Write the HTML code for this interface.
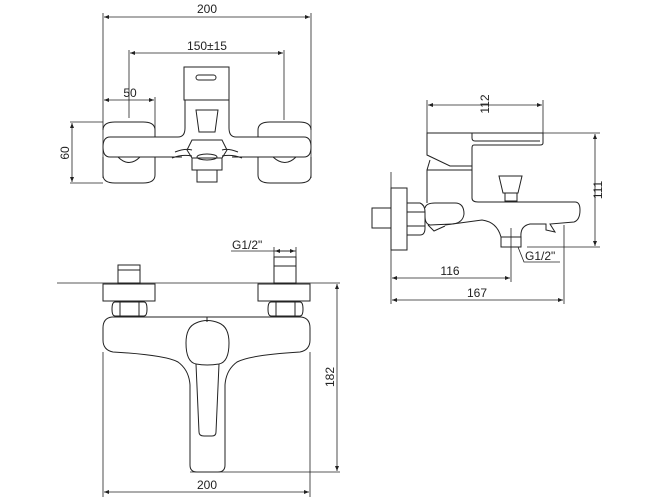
<!DOCTYPE html>
<html><head><style>
html,body{margin:0;padding:0;background:#fff;}
svg{display:block;}
text{font-family:"Liberation Sans",sans-serif;font-size:12px;fill:#222;}
</style></head><body>
<svg width="670" height="504" viewBox="0 0 670 504" xmlns="http://www.w3.org/2000/svg">
<defs>
<marker id="a" viewBox="0 0 10 10" refX="10" refY="5" markerWidth="8" markerHeight="5" orient="auto-start-reverse" markerUnits="userSpaceOnUse"><path d="M0,1 L10,5 L0,9z" fill="#222"/></marker>
</defs>
<g fill="none" stroke="#222" stroke-width="1">
<!-- TOP VIEW -->
<line x1="103" y1="13" x2="103" y2="178" stroke-width="0.8"/>
<line x1="311" y1="13" x2="311" y2="178" stroke-width="0.8"/>
<line x1="104" y1="17" x2="310" y2="17" marker-start="url(#a)" marker-end="url(#a)" stroke-width="0.8"/>
<line x1="129" y1="50" x2="129" y2="118" stroke-width="0.8"/>
<line x1="284" y1="50" x2="284" y2="120" stroke-width="0.8"/>
<line x1="130" y1="53" x2="283" y2="53" marker-start="url(#a)" marker-end="url(#a)" stroke-width="0.8"/>
<line x1="155" y1="97" x2="155" y2="137" stroke-width="0.8"/>
<line x1="104" y1="100" x2="154" y2="100" marker-start="url(#a)" marker-end="url(#a)" stroke-width="0.8"/>
<line x1="70" y1="122" x2="103" y2="122" stroke-width="0.8"/>
<line x1="70" y1="183" x2="103" y2="183" stroke-width="0.8"/>
<line x1="72" y1="123" x2="72" y2="182" marker-start="url(#a)" marker-end="url(#a)" stroke-width="0.8"/>
<!-- pads -->
<path d="M103,130 Q103,122 115,122 L143,122 Q155,122 155,130 L155,137"/>
<path d="M103,157 L103,175 Q103,183 115,183 L143,183 Q155,183 155,175 L155,157"/>
<path d="M118,157 Q129,168 140,157"/>
<path d="M258,137 L258,130 Q258,122 270,122 L299,122 Q311,122 311,130"/>
<path d="M258,157 L258,175 Q258,183 270,183 L299,183 Q311,183 311,175 L311,157"/>
<path d="M273,157 Q285,168 296,157"/>
<!-- bar -->
<path d="M110,137 L178,137 Q185,137 185,128 L185,100 L229,100 L229,128 Q229,137 236,137 L304,137 Q311,137 311,147 Q311,157 304,157 L232,157 M182,157 L110,157 Q103,157 103,147 Q103,137 110,137"/>
<rect x="184" y="67" width="45" height="33"/>
<rect x="196" y="75" width="20" height="5" rx="2.5"/>
<path d="M196,110 L218,110 L215,132 L199,132 Z"/>
<path d="M187,150 L192,140 L222,140 L227,150 L222,158 L192,158 Z"/>
<path d="M175,152 Q185,148 192,150 M238,152 Q228,148 222,150 M172,158 Q182,154 192,156 M242,158 Q232,154 222,156"/>
<ellipse cx="207" cy="157" rx="10" ry="3"/>
<rect x="192" y="158" width="30" height="12"/>
<rect x="197" y="170" width="20" height="12"/>
<!-- SIDE VIEW -->
<line x1="427" y1="100" x2="427" y2="133" stroke-width="0.8"/>
<line x1="543" y1="100" x2="543" y2="133" stroke-width="0.8"/>
<line x1="428" y1="105" x2="542" y2="105" marker-start="url(#a)" marker-end="url(#a)" stroke-width="0.8"/>
<line x1="543" y1="133" x2="600" y2="133" stroke-width="0.8"/>
<line x1="527" y1="247" x2="600" y2="247" stroke-width="0.8"/>
<line x1="595" y1="134" x2="595" y2="246" marker-start="url(#a)" marker-end="url(#a)" stroke-width="0.8"/>
<path d="M427,133 L543,133 L543,143 Q543,145 540,145 L474,145 Q472,145 472,148 L472,166 L450,166 L427,155 Z"/>
<path d="M472,133 L472,138 Q472,141 475,141 L540,141"/>
<path d="M430,160 L427,170 L427,203 M472,166 L472,198 Q472,202 478,202 L575,202 Q580,202 580,210 Q580,220 574,222 L550,224 L555,232 L546,230 L546,224 L530,224 Q520,226 521,237 M501,237 Q497,222 482,220 L445,225"/>
<line x1="427" y1="170" x2="472" y2="170"/>
<rect x="501" y="237" width="20" height="10"/>
<line x1="511" y1="228" x2="511" y2="282" stroke-width="0.8"/>
<line x1="564" y1="225" x2="564" y2="304" stroke-width="0.8"/>
<path d="M499,176 L522,176 L518,193 L503,193 Z"/>
<rect x="505" y="193" width="12" height="8"/>
<line x1="391" y1="172" x2="391" y2="304" stroke-width="0.8"/>
<rect x="391" y="188" width="16" height="62"/>
<rect x="372" y="208" width="19" height="20"/>
<path d="M407,203 L420,203 Q425,205 425,212 L425,228 Q425,235 420,235 L407,235 Z M407,212 L425,212 M407,226 L425,226"/>
<path d="M425,208 Q426,203 435,203 L455,203 Q464,203 464,214 Q463,223 452,224 L430,225 Q425,224 425,216 M428,225 L434,231 L445,226"/>
<line x1="392" y1="278" x2="510" y2="278" marker-start="url(#a)" marker-end="url(#a)" stroke-width="0.8"/>
<line x1="392" y1="300" x2="563" y2="300" marker-start="url(#a)" marker-end="url(#a)" stroke-width="0.8"/>
<path d="M518,247 L524,262 L560,262" stroke-width="0.8"/>
<!-- FRONT VIEW -->
<line x1="57" y1="283" x2="340" y2="283" stroke-width="0.8"/>
<rect x="103" y="284" width="52" height="17"/>
<rect x="258" y="284" width="52" height="17"/>
<rect x="118" y="265" width="22" height="18"/>
<line x1="118" y1="270" x2="140" y2="270"/>
<rect x="274" y="257" width="22" height="26"/>
<line x1="274" y1="266" x2="296" y2="266"/>
<path d="M115,302 L144,302 Q147,302 147,309 Q147,316 144,316 L115,316 Q112,316 112,309 Q112,302 115,302 M120,302 L120,316 M139,302 L139,316"/>
<path d="M271,302 L300,302 Q303,302 303,309 Q303,316 300,316 L271,316 Q268,316 268,309 Q268,302 271,302 M276,302 L276,316 M295,302 L295,316"/>
<path d="M112,317 L301,317 Q310,318 310,328 L310,340 Q310,350 300,352 Q250,355 237,362 Q226,370 225,385 L225,465 Q225,472 218,472 L197,472 Q190,472 190,465 L190,385 Q189,370 178,362 Q165,355 113,352 Q103,350 103,340 L103,328 Q103,318 112,317 Z"/>
<line x1="207" y1="317" x2="207" y2="322"/>
<path d="M196,323 Q207,318 219,323 Q229,327 229,343 Q229,362 219,364 Q207,366 196,364 Q186,362 186,343 Q186,327 196,323 Z"/>
<path d="M196,364 L199,432 Q199,436 204,436 L212,436 Q216,436 216,432 L219,364"/>
<line x1="190" y1="472" x2="340" y2="472" stroke-width="0.8"/>
<line x1="310" y1="352" x2="310" y2="497" stroke-width="0.8"/>
<line x1="103" y1="352" x2="103" y2="497" stroke-width="0.8"/>
<line x1="337" y1="284" x2="337" y2="471" marker-start="url(#a)" marker-end="url(#a)" stroke-width="0.8"/>
<line x1="104" y1="492" x2="309" y2="492" marker-start="url(#a)" marker-end="url(#a)" stroke-width="0.8"/>
<line x1="274" y1="247" x2="274" y2="257" stroke-width="0.8"/>
<line x1="296" y1="247" x2="296" y2="257" stroke-width="0.8"/>
<line x1="231" y1="251" x2="296" y2="251" stroke-width="0.8"/>
<line x1="275" y1="251" x2="285" y2="251" marker-start="url(#a)" stroke-width="0.8"/>
<line x1="285" y1="251" x2="295" y2="251" marker-end="url(#a)" stroke-width="0.8"/>
</g>
<g>
<text x="207" y="13" text-anchor="middle">200</text>
<text x="207" y="50" text-anchor="middle">150±15</text>
<text x="130" y="97" text-anchor="middle">50</text>
<text transform="translate(69,153) rotate(-90)" text-anchor="middle">60</text>
<text transform="translate(489,104) rotate(-90)" text-anchor="middle">112</text>
<text transform="translate(602,190) rotate(-90)" text-anchor="middle">111</text>
<text x="450" y="275" text-anchor="middle">116</text>
<text x="477" y="297" text-anchor="middle">167</text>
<text x="525" y="260">G1/2"</text>
<text x="232" y="249">G1/2"</text>
<text transform="translate(334,377) rotate(-90)" text-anchor="middle">182</text>
<text x="207" y="489" text-anchor="middle">200</text>
</g>
</svg>
</body></html>
